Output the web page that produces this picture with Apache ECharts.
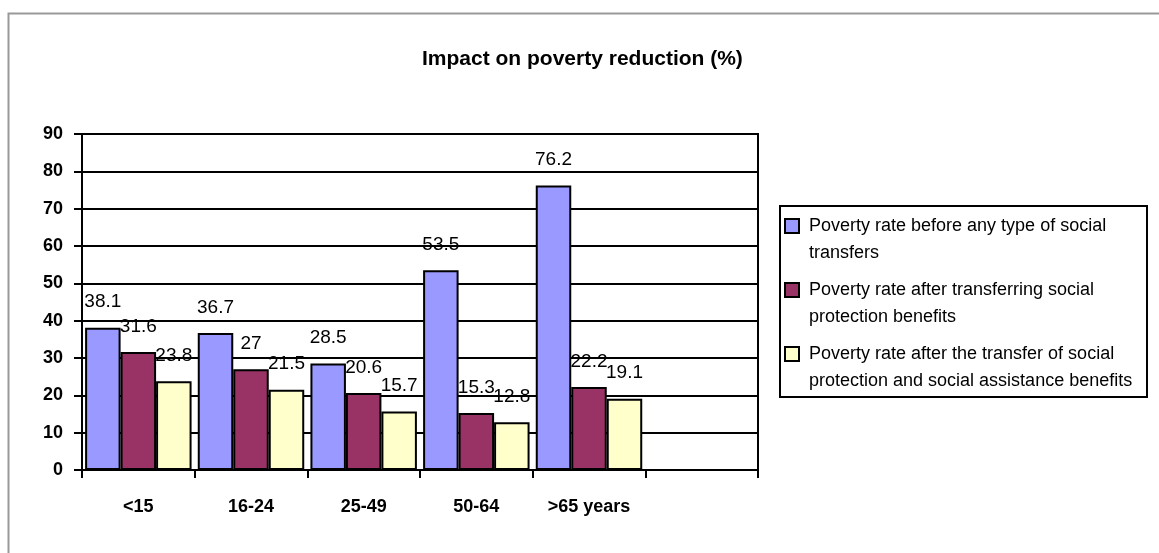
<!DOCTYPE html>
<html>
<head>
<meta charset="utf-8">
<script src="https://cdn.jsdelivr.net/npm/echarts@6/dist/echarts.min.js"></script>
<style>
html,body{margin:0;padding:0;background:#fff;}
#chart{width:1159px;height:553px;}
</style>
</head>
<body>
<div id="chart"></div>
<script>
const categories = ["<15", "16-24", "25-49", "50-64", ">65 years", ""];
const beforeTransfers = [38.1, 36.7, 28.5, 53.5, 76.2, null];
const afterProtection = [31.6, 27, 20.6, 15.3, 22.2, null];
const afterAssistance = [23.8, 21.5, 15.7, 12.8, 19.1, null];
const seriesNames = [
  "Poverty rate before any type of social transfers",
  "Poverty rate after transferring social protection benefits",
  "Poverty rate after the transfer of social protection and social assistance benefits"
];
const legendLines = [
  ["Poverty rate before any type of social", "transfers"],
  ["Poverty rate after transferring social", "protection benefits"],
  ["Poverty rate after the transfer of social", "protection and social assistance benefits"]
];
const colors = ["#9999FF", "#993366", "#FFFFCC"];
const yTicks = { min: 0, max: 90, interval: 10 };
const titleText = "Impact on poverty reduction (%)";

const FONT = '"Liberation Sans", Arial, sans-serif';
const chart = echarts.init(document.getElementById('chart'));

function barSeries(name, data, color) {
  return {
    name: name,
    type: 'bar',
    data: data,
    barGap: '0%',
    barCategoryGap: '5.5%',
    itemStyle: { color: color, borderColor: '#000', borderWidth: 2 },
    label: {
      show: true, position: 'top', distance: 16,
      fontFamily: FONT, fontSize: 19, color: '#000'
    },
    emphasis: { disabled: true }
  };
}

chart.setOption({
  animation: false,
  color: colors,
  title: {
    text: titleText,
    left: 422, top: 47, padding: 0,
    textStyle: { fontFamily: FONT, fontSize: 21, fontWeight: 'bold', color: '#000', lineHeight: 24 }
  },
  grid: {
    left: 82, right: 401, top: 134, bottom: 83,
    show: true, borderColor: '#000', borderWidth: 2, backgroundColor: '#fff'
  },
  legend: {
    orient: 'vertical',
    left: 784, top: 185.5, padding: 0,
    itemWidth: 14, itemHeight: 14, itemGap: -17,
    icon: 'rect',
    itemStyle: { borderColor: '#000', borderWidth: 2 },
    selectedMode: false,
    data: seriesNames,
    formatter: function (name) {
      return '\n' + legendLines[seriesNames.indexOf(name)].join('\n');
    },
    textStyle: {
      fontFamily: FONT, fontSize: 18, color: '#000', lineHeight: 27,
      padding: [0, 0, 0, 5]
    }
  },
  graphic: [
    { type: 'rect', z: -10, silent: true,
      shape: { x: 8.5, y: 13.5, width: 1300, height: 700 },
      style: { fill: '#fff', stroke: '#999', lineWidth: 2 } },
    { type: 'rect', z: 0, silent: true,
      shape: { x: 780, y: 206, width: 367, height: 191 },
      style: { fill: '#fff', stroke: '#000', lineWidth: 2 } }
  ],
  xAxis: {
    type: 'category',
    data: categories,
    boundaryGap: true,
    axisLine: { lineStyle: { color: '#000', width: 2 } },
    axisTick: { show: true, length: 8, lineStyle: { color: '#000', width: 2 } },
    axisLabel: { fontFamily: FONT, fontSize: 18, fontWeight: 'bold', color: '#000', margin: 28 }
  },
  yAxis: {
    type: 'value',
    min: yTicks.min, max: yTicks.max, interval: yTicks.interval,
    axisLine: { show: true, lineStyle: { color: '#000', width: 2 } },
    axisTick: { show: true, length: 8, lineStyle: { color: '#000', width: 2 } },
    axisLabel: { fontFamily: FONT, fontSize: 18, fontWeight: 'bold', color: '#000', margin: 19 },
    splitLine: { lineStyle: { color: '#000', width: 2 } }
  },
  series: [
    barSeries(seriesNames[0], beforeTransfers, colors[0]),
    barSeries(seriesNames[1], afterProtection, colors[1]),
    barSeries(seriesNames[2], afterAssistance, colors[2])
  ]
});
</script>
</body>
</html>
